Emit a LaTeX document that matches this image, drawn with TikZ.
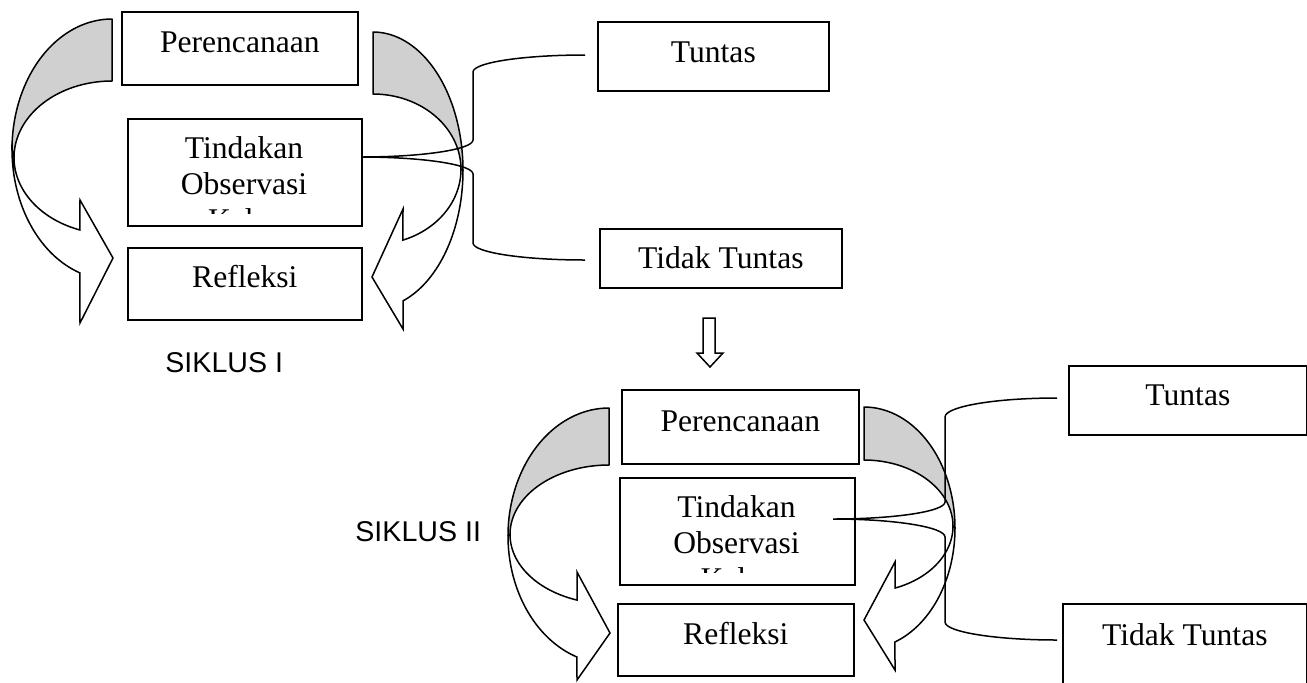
\documentclass[tikz,border=0pt]{standalone}
\usepackage{fontspec}
\setmainfont{Liberation Serif}
\newfontfamily\arialf{Liberation Sans}
\definecolor{backgray}{RGB}{208,208,208}
\tikzset{
  box/.style={draw, line width=0.85pt, fill=white, inner sep=0pt, anchor=north west,
              font=\fontsize{15.8}{18}\selectfont},
  boxtext/.style={anchor=base, inner sep=0pt, font=\fontsize{15.8}{18}\selectfont},
  cyclelabel/.style={anchor=base west, inner sep=0pt, font=\arialf\fontsize{14.3}{17}\selectfont},
  arrowback/.style={draw, line width=0.75pt, fill=backgray, line join=round},
  arrowfront/.style={draw, line width=0.75pt, fill=white, line join=miter},
  brace/.style={draw, line width=0.75pt},
}
\begin{document}
\begin{tikzpicture}[x=0.5pt,y=-0.5pt]
\useasboundingbox (0,0) rectangle (1307,682);
\clip (0,0) rectangle (1307,682);

% ---------------- SIKLUS I curved arrows ----------------
% left curved arrow
\path[arrowback] plot[domain=0:90,samples=45,variable=\t] ({112+100*cos(270-\t)},{149.4+130.4*sin(270-\t)})
  -- plot[domain=0:90,samples=45,variable=\t] ({112+98*cos(180+\t)},{157.6+76.6*sin(180+\t)}) -- cycle;
\path[arrowfront] plot[domain=0:71.3,samples=40,variable=\t] ({112+100*cos(180-\t)},{149.4+130.4*sin(180-\t)})
  -- (80,323) -- (113,258) -- (80,200)
  -- plot[domain=0:70.9,samples=40,variable=\t] ({112+98*cos(109.1+\t)},{157.6+76.6*sin(109.1+\t)}) -- cycle;
% right curved arrow
\path[arrowback] plot[domain=0:90,samples=45,variable=\t] ({373+90*cos(-90+\t)},{170.4+138.4*sin(-90+\t)})
  -- plot[domain=0:90,samples=45,variable=\t] ({373+88*cos(-\t)},{169.3+75.3*sin(-\t)}) -- cycle;
\path[arrowfront] plot[domain=0:70.5,samples=40,variable=\t] ({373+90*cos(\t)},{170.4+138.4*sin(\t)})
  -- (403,329) -- (372,277) -- (403,209)
  -- plot[domain=0:70.1,samples=40,variable=\t] ({373+88*cos(70.1-\t)},{169.3+75.3*sin(70.1-\t)}) -- cycle;

% ---------------- SIKLUS II curved arrows ----------------
\path[arrowback] plot[domain=0:90,samples=45,variable=\t] ({609+101*cos(270-\t)},{535.8+127.8*sin(270-\t)})
  -- plot[domain=0:90,samples=45,variable=\t] ({609+99*cos(180+\t)},{534.4+69.4*sin(180+\t)}) -- cycle;
\path[arrowfront] plot[domain=0:71.5,samples=40,variable=\t] ({609+101*cos(180-\t)},{535.8+127.8*sin(180-\t)})
  -- (577,680) -- (610,633) -- (577,572)
  -- plot[domain=0:71.2,samples=40,variable=\t] ({609+99*cos(108.8+\t)},{534.4+69.4*sin(108.8+\t)}) -- cycle;
\path[arrowback] plot[domain=0:90,samples=45,variable=\t] ({864+91*cos(-90+\t)},{528.1+121.1*sin(-90+\t)})
  -- plot[domain=0:90,samples=45,variable=\t] ({864+89*cos(-\t)},{526.1+66.1*sin(-\t)}) -- cycle;
\path[arrowfront] plot[domain=0:70.1,samples=40,variable=\t] ({864+91*cos(\t)},{528.1+121.1*sin(\t)})
  -- (895,670) -- (864,620) -- (895,562)
  -- plot[domain=0:69.6,samples=40,variable=\t] ({864+89*cos(69.6-\t)},{526.1+66.1*sin(69.6-\t)}) -- cycle;

% ---------------- boxes SIKLUS I ----------------
\node[box, minimum width=118pt, text height=20.5pt, text depth=16pt] (per1) at (121,11) {Perencanaan};
\node[box, minimum width=117pt, minimum height=53.5pt] (tind1) at (127,118) {};
\begin{scope}
  \clip (127,118) rectangle (361,213);
  \node[boxtext] (tind1t) at (244,158) {\begin{tabular}[t]{@{}c@{}}Tindakan\\Observasi\\Kelas\end{tabular}};
\end{scope}
\node[box, minimum width=117pt, text height=20pt, text depth=16pt] (refl1) at (127,247) {Refleksi};
\node[box, minimum width=115.5pt, text height=20.5pt, text depth=14pt] (tun1) at (597,21) {Tuntas};
\node[box, minimum width=121pt, text height=20pt, text depth=9.5pt] (tid1) at (599,228) {Tidak Tuntas};

% ---------------- boxes SIKLUS II ----------------
\node[box, minimum width=118.5pt, text height=21pt, text depth=16pt] (per2) at (621,389) {Perencanaan};
\node[box, minimum width=117.5pt, minimum height=53.5pt] (tind2) at (619,477) {};
\begin{scope}
  \clip (619,477) rectangle (854,572);
  \node[boxtext] (tind2t) at (736.5,517) {\begin{tabular}[t]{@{}c@{}}Tindakan\\Observasi\\Kelas\end{tabular}};
\end{scope}
\node[box, minimum width=118pt, text height=20.5pt, text depth=15.5pt] (refl2) at (617,603) {Refleksi};
\node[box, minimum width=119pt, text height=20pt, text depth=14.5pt] (tun2) at (1068,365) {Tuntas};
\node[box, minimum width=122pt, text height=21pt, text depth=34pt] (tid2) at (1062,603) {Tidak Tuntas};

% ---------------- braces ----------------
\coordinate (b1top) at (585,55);
\coordinate (b1tip) at (361,157);
\coordinate (b1bot) at (585,260);
\path[brace] (b1top) .. controls (523.1,55) and (473,62.6) .. (473,72) -- (473,140)
  .. controls (473,149.4) and (422.9,157) .. (b1tip)
  .. controls (422.9,157) and (473,164.6) .. (473,174) -- (473,243)
  .. controls (473,252.4) and (523.1,260) .. (b1bot);

\coordinate (b2top) at (1057,398);
\coordinate (b2tip) at (833,519);
\coordinate (b2bot) at (1057,640);
\path[brace] (b2top) .. controls (995.1,398) and (945,406.5) .. (945,417) -- (945,502)
  .. controls (945,511.4) and (894.9,519) .. (b2tip)
  .. controls (894.9,519) and (945,527.1) .. (945,537) -- (945,622)
  .. controls (945,631.9) and (995.1,640) .. (b2bot);

% ---------------- down arrow ----------------
\path[arrowfront] (703,318) -- (715,318) -- (715,353) -- (723,353) -- (710,367)
  -- (697,353) -- (703,353) -- cycle;

% ---------------- labels ----------------
\node[cyclelabel] (sik1) at (165,372) {SIKLUS I};
\node[cyclelabel] (sik2) at (355,541) {SIKLUS II};
\end{tikzpicture}
\end{document}
